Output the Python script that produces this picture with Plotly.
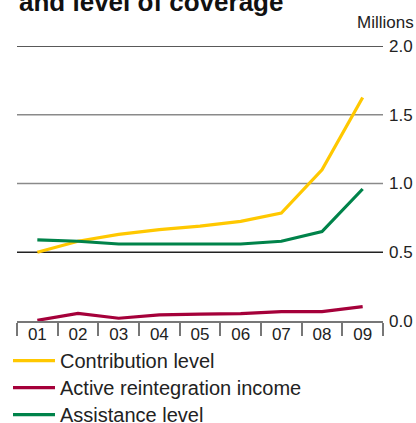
"""Line chart: contribution level, active reintegration income, assistance level"""
import plotly.graph_objects as go

# Data (millions)
years = ['01', '02', '03', '04', '05', '06', '07', '08', '09']
contribution = [0.50, 0.58, 0.63, 0.665, 0.69, 0.725, 0.785, 1.10, 1.625]
reintegration = [0.005, 0.055, 0.02, 0.045, 0.05, 0.053, 0.068, 0.068, 0.105]
assistance = [0.59, 0.58, 0.56, 0.56, 0.56, 0.56, 0.58, 0.65, 0.96]

y_ticks = [0.0, 0.5, 1.0, 1.5, 2.0]
y_ticktext = ['0.0', '0.5', '1.0', '1.5', '2.0']
grid_vals = [0.5, 1.0, 1.5, 2.0]
grid_colors = ['#222222', '#8a8a8a', '#8a8a8a', '#222222']

FONT = 'Liberation Sans, Arial, sans-serif'

series = [
    ('Contribution level', contribution, '#ffc800'),
    ('Active reintegration income', reintegration, '#a5003a'),
    ('Assistance level', assistance, '#00834a'),
]

fig = go.Figure()

# Gridlines
for v, c in zip(grid_vals, grid_colors):
    fig.add_shape(type='line', xref='paper', x0=0, x1=1, yref='y', y0=v, y1=v,
                  line=dict(color=c, width=1.3), layer='below')

# One legend per series so the rows can be spaced like the original
legend_ids = ['legend', 'legend2', 'legend3']
for (name, vals, color), lid in zip(series, legend_ids):
    fig.add_trace(go.Scatter(
        x=years, y=vals, mode='lines', name=name, legend=lid,
        line=dict(color=color, width=3.2),
        hovertemplate='%{x}: %{y:.2f}<extra>' + name + '</extra>'
    ))

legend_style = dict(x=-0.0246, xanchor='left', yanchor='top', orientation='v',
                    font=dict(size=20), itemwidth=42, bgcolor='rgba(0,0,0,0)')
row_step = 27 / 275  # 27px per legend row in paper units

fig.update_layout(
    width=416, height=423,
    margin=dict(l=17, r=33, t=46, b=102, autoexpand=False),
    paper_bgcolor='white', plot_bgcolor='white',
    font=dict(family=FONT, size=17, color='#222222'),
    showlegend=True,
    legend=dict(y=-0.073, **legend_style),
    legend2=dict(y=-0.073 - row_step, **legend_style),
    legend3=dict(y=-0.073 - 2 * row_step, **legend_style),
)

fig.update_xaxes(
    type='category', range=[-0.5, 8.5], showgrid=False, zeroline=False,
    showline=True, linecolor='#777777', linewidth=1.5,
    ticks='outside', tickson='boundaries', ticklen=13, tickwidth=1.5,
    tickcolor='#777777', ticklabelstandoff=-3, tickangle=0,
    tickfont=dict(size=17, color='#222222'), fixedrange=True
)
fig.update_yaxes(
    range=[0, 2.0], side='right', showgrid=False, zeroline=False,
    showline=False, ticks='', tickvals=y_ticks, ticktext=y_ticktext,
    tickfont=dict(size=17, color='#222222'), ticklabelstandoff=5, fixedrange=True
)

# Title (cropped at top in the original) and unit label
fig.add_annotation(text='<b>and level of coverage</b>', xref='paper', yref='paper',
                   x=0, y=1, xanchor='left', yanchor='bottom', yshift=27,
                   showarrow=False, font=dict(size=26, color='#111111'))
fig.add_annotation(text='Millions', xref='paper', yref='paper',
                   x=1, y=1, xanchor='right', yanchor='middle', xshift=33, yshift=24,
                   showarrow=False, font=dict(size=17, color='#222222'))

fig.write_html("out.html", config={'displayModeBar': False},
               post_script="document.body.style.margin='0';document.body.style.overflow='hidden';")
